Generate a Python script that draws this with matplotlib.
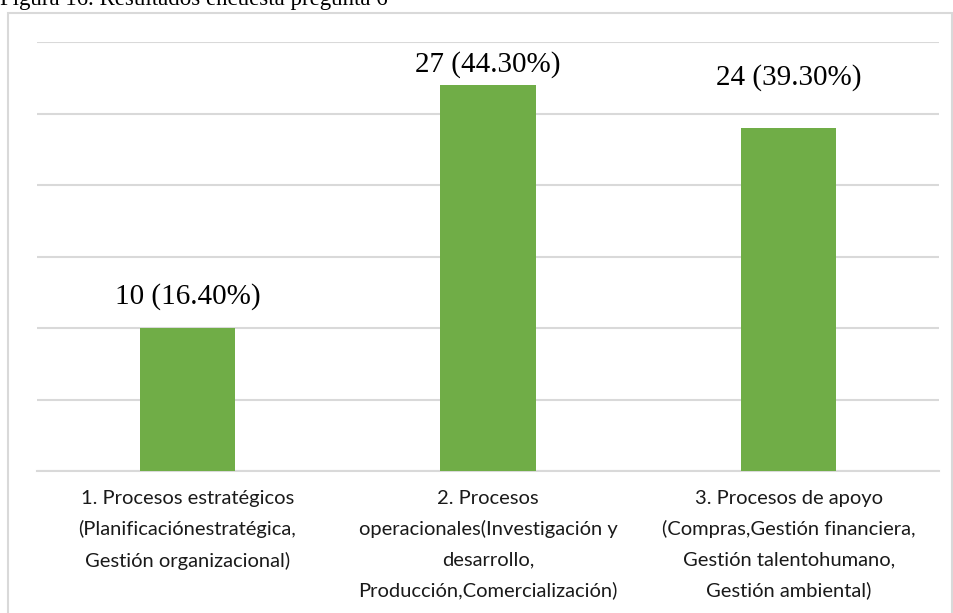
import matplotlib
matplotlib.use('Agg')
import matplotlib.pyplot as plt
from matplotlib.patches import Rectangle

# ── Data ──────────────────────────────────────────────
categories = [
    "1. Procesos estratégicos\n(Planificaciónestratégica,\nGestión organizacional)",
    "2. Procesos\noperacionales(Investigación y\ndesarrollo,\nProducción,Comercialización)",
    "3. Procesos de apoyo\n(Compras,Gestión financiera,\nGestión talentohumano,\nGestión ambiental)",
]
counts = [10, 27, 24]
percents = ["16.40%", "44.30%", "39.30%"]
# label lift above each bar (as placed in the original chart)
label_lift = [2.2, 1.45, 3.5]

GREEN = "#70AD47"
GRID = "#D9D9D9"

fig = plt.figure(figsize=(9.54, 6.13), dpi=100, facecolor="white")

# outer chart border
fig.patches.append(Rectangle((8 / 954, -0.05), 944 / 954, 1 - 13 / 613 + 0.05,
                             transform=fig.transFigure, fill=False,
                             edgecolor=GRID, linewidth=1.5))

# caption above the chart (its top is cut off in the original too)
fig.text(0.0, 1 - 5 / 613, "Figura 16. Resultados encuesta pregunta 6",
         fontsize=16.5, family="Liberation Serif", va="baseline", ha="left")

ax = fig.add_axes([37 / 954, 1 - 471 / 613, 902 / 954, 429 / 613])
x = range(len(categories))
ax.bar(x, counts, width=0.316, color=GREEN, zorder=3)

ax.set_xlim(-0.5, 2.5)
ax.set_ylim(0, 30)
ax.set_yticks(range(0, 31, 5))
ax.yaxis.grid(True, color=GRID, linewidth=1.5, zorder=0)
ax.tick_params(axis="y", left=False, labelleft=False)
ax.tick_params(axis="x", bottom=False, pad=10)
ax.set_xticks(list(x))
ax.set_xticklabels(categories, fontsize=14.5, family="Lato", linespacing=1.9,
                   va="top", color="#1a1a1a")
for s in ["top", "right", "left"]:
    ax.spines[s].set_visible(False)
ax.spines["bottom"].set_color(GRID)
ax.spines["bottom"].set_linewidth(1.5)

for i, (c, p, lift) in enumerate(zip(counts, percents, label_lift)):
    ax.text(i, c + lift, f"{c} ({p})", ha="center", va="center",
            fontsize=21, family="Liberation Serif", zorder=4,
            bbox=dict(facecolor="white", edgecolor="none", pad=4))

fig.savefig("out.png", dpi=100, facecolor="white")
